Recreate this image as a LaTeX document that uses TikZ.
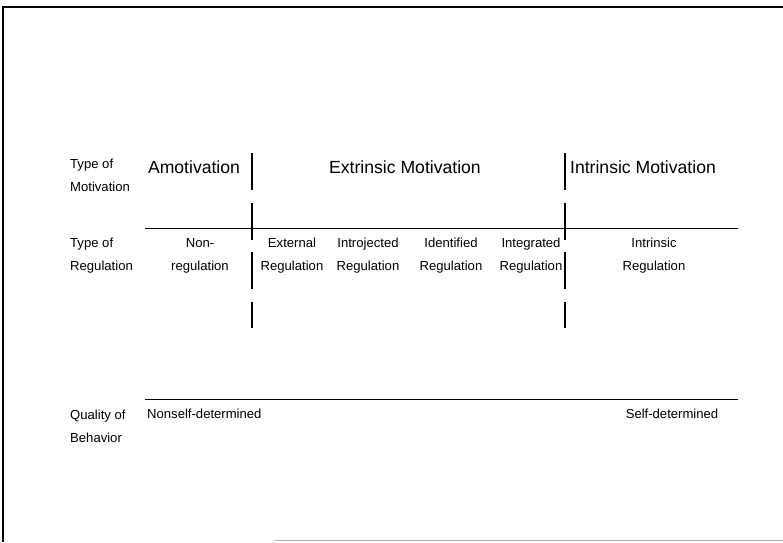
\documentclass[tikz,border=0pt]{standalone}
\usepackage{fontspec}
\setmainfont{Liberation Sans}

\begin{document}
\begin{tikzpicture}[
		x=1pt,y=-1pt,
		inner sep=0pt,
		rowlabel/.style={align=left,anchor=west,font=\fontsize{13.1}{23}\selectfont},
		cell/.style={align=center,font=\fontsize{13.1}{23}\selectfont},
		head/.style={font=\fontsize{17.6}{22}\selectfont},
		divider/.style={line width=2.2pt,dash pattern=on 37pt off 12.5pt},
		rule/.style={line width=0.9pt},
		frame/.style={line width=1.3pt}
		]
		\useasboundingbox (0,0) rectangle (783,542);
		% page frame
		\coordinate (fTL) at (3,7);
		\coordinate (fTR) at (783,7);
		\coordinate (fBL) at (3,542);
		\coordinate (fB1) at (275,540);
		\coordinate (fB2) at (783,540);
		\draw[frame] (fBL) -- (fTL) -- (fTR);
		\draw[gray!60,line width=0.8pt] (fB1) -- (fB2);
		
		% motivation row
		\node[rowlabel](typeMot) at (70,175.5){Type of\\Motivation};
		\node[head](amot) at (194,167){Amotivation};
		\node[head](extr) at (405,167){Extrinsic Motivation};
		\node[head](intr) at (643,167){Intrinsic Motivation};
		
		% regulation row
		\node[rowlabel](typeReg) at (70,255.5){Type of\\Regulation};
		\node[cell](nonReg) at (200,255.5){Non-\\regulation};
		\node[cell](extReg) at (292,255.5){External\\Regulation};
		\node[cell](introReg) at (368,255.5){Introjected\\Regulation};
		\node[cell](identReg) at (451,255.5){Identified\\Regulation};
		\node[cell](integReg) at (531,255.5){Integrated\\Regulation};
		\node[cell](intrReg) at (654,255.5){Intrinsic\\Regulation};
		
		% quality row
		\node[rowlabel](quality) at (70,426.5){Quality of\\Behavior};
		\node[rowlabel](nonself) at (147,414){Nonself-determined};
		\node[cell](self) at (672,414){Self-determined};
		
		% rules and dividers
		\coordinate (regL) at (145,228);
		\coordinate (regR) at (738,228);
		\coordinate (qualL) at (145,399);
		\coordinate (qualR) at (738,399);
		\coordinate (divAtop) at (252,153);
		\coordinate (divAbot) at (252,328);
		\coordinate (divBtop) at (565,153);
		\coordinate (divBbot) at (565,328);
		\draw[rule] (regL) -- (regR);
		\draw[rule] (qualL) -- (qualR);
		\draw[divider] (divAtop) -- (divAbot);
		\draw[divider] (divBtop) -- (divBbot);
		
\end{tikzpicture}
\end{document}
